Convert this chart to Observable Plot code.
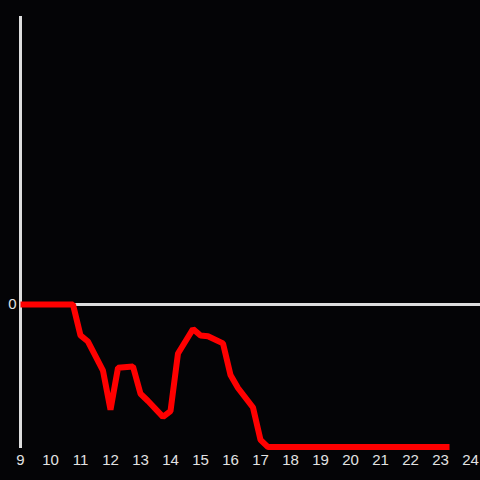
<!DOCTYPE html>
<html>
<head>
<meta charset="utf-8">
<script src="https://cdn.jsdelivr.net/npm/d3@7"></script>
<script src="https://cdn.jsdelivr.net/npm/@observablehq/plot@0.6"></script>
<style>
  html, body { margin: 0; padding: 0; background: #040406; }
  #chart { width: 480px; height: 480px; }
</style>
</head>
<body>
<div id="chart"></div>
<script>
const hours = [9, 10.75, 11, 11.25, 11.75, 12, 12.25, 12.75, 13, 13.25, 13.75, 14, 14.25, 14.75, 15, 15.25, 15.75, 16, 16.25, 16.75, 17, 17.25, 18, 19, 20, 21, 22, 23, 23.3];
const values = [0, 0, -0.215, -0.257, -0.46, -0.73, -0.44, -0.43, -0.62, -0.67, -0.78, -0.74, -0.34, -0.17, -0.215, -0.22, -0.27, -0.49, -0.58, -0.715, -0.94, -0.99, -0.99, -0.99, -0.99, -0.99, -0.99, -0.99, -0.99];
const xTicks = [9, 10, 11, 12, 13, 14, 15, 16, 17, 18, 19, 20, 21, 22, 23, 24];
const yTicks = [0];

const data = hours.map((h, i) => ({hour: h, value: values[i]}));

const chart = Plot.plot({
  width: 480,
  height: 480,
  marginLeft: 20,
  marginRight: 10,
  marginTop: 16,
  marginBottom: 32,
  style: {background: "#040406", color: "#e2e2e2", fontFamily: "Liberation Sans, Arial, sans-serif", fontSize: "15px"},
  x: {domain: [9, 24], label: null},
  y: {domain: [-1, 2], label: null},
  marks: [
    Plot.axisX(xTicks, {tickSize: 0, tickPadding: 6, fontSize: 15, fill: "#e2e2e2", tickFormat: d => String(d)}),
    Plot.axisY(yTicks, {tickSize: 0, tickPadding: 4, fontSize: 15, fill: "#e2e2e2", tickFormat: d => String(d)}),
    Plot.ruleY([0], {x1: 9, x2: 24 + 10 / 30, stroke: "#dddddd", strokeWidth: 3, clip: false}),
    Plot.ruleX([9], {y1: -1, y2: 2, stroke: "#dddddd", strokeWidth: 3}),
    Plot.line(data, {x: "hour", y: "value", stroke: "#ff0000", strokeWidth: 6, strokeLinejoin: "miter", strokeLinecap: "butt"})
  ]
});
document.getElementById("chart").appendChild(chart);
</script>
</body>
</html>
